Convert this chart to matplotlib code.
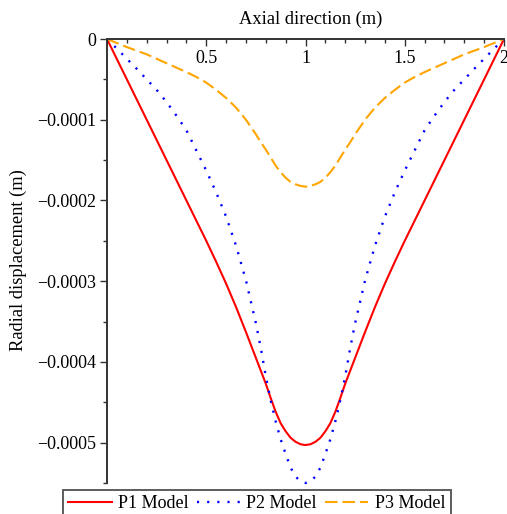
import matplotlib
matplotlib.use("Agg")
import matplotlib.pyplot as plt
from matplotlib.ticker import MultipleLocator

# Axial position along the member (m); finer steps around mid-span
axial_pos = [0.00, 0.05, 0.10, 0.15, 0.20, 0.25, 0.30, 0.35, 0.40, 0.45,
             0.50, 0.55, 0.60, 0.65, 0.70,
             0.75, 0.775, 0.80, 0.825, 0.85, 0.875, 0.90, 0.925, 0.95, 0.975,
             1.00, 1.025, 1.05, 1.075, 1.10, 1.125, 1.15, 1.175, 1.20, 1.225,
             1.25, 1.30, 1.35, 1.40, 1.45, 1.50, 1.55, 1.60, 1.65, 1.70,
             1.75, 1.80, 1.85, 1.90, 1.95, 2.00]

# Radial displacement of each model (x 1e-4 m)
p1_model = [0.00, -0.25, -0.50, -0.75, -1.00, -1.25, -1.50, -1.75, -2.00, -2.25,
            -2.50, -2.76, -3.03, -3.32, -3.63,
            -3.95, -4.11, -4.27, -4.45, -4.62, -4.76, -4.86, -4.94, -4.99, -5.02,
            -5.03, -5.02, -4.99, -4.94, -4.86, -4.76, -4.62, -4.45, -4.27, -4.11,
            -3.95, -3.63, -3.32, -3.03, -2.76, -2.50, -2.25, -2.00, -1.75, -1.50,
            -1.25, -1.00, -0.75, -0.50, -0.25, 0.00]
p2_model = [0.00, -0.12, -0.245, -0.37, -0.50, -0.63, -0.78, -0.95, -1.13, -1.38,
            -1.63, -1.90, -2.20, -2.56, -2.99,
            -3.52, -3.83, -4.18, -4.48, -4.74, -4.96, -5.14, -5.31, -5.42, -5.48,
            -5.50, -5.48, -5.42, -5.31, -5.14, -4.96, -4.74, -4.48, -4.18, -3.83,
            -3.52, -2.99, -2.56, -2.20, -1.90, -1.63, -1.38, -1.13, -0.95, -0.78,
            -0.63, -0.50, -0.37, -0.245, -0.12, 0.00]
p3_model = [0.00, -0.05, -0.10, -0.145, -0.19, -0.245, -0.30, -0.355, -0.41, -0.47,
            -0.54, -0.63, -0.73, -0.85, -1.00,
            -1.18, -1.28, -1.37, -1.47, -1.57, -1.65, -1.72, -1.77, -1.80, -1.82,
            -1.83, -1.82, -1.80, -1.77, -1.72, -1.65, -1.57, -1.47, -1.37, -1.28,
            -1.18, -1.00, -0.85, -0.73, -0.63, -0.54, -0.47, -0.41, -0.355, -0.30,
            -0.245, -0.19, -0.145, -0.10, -0.05, 0.00]

x_ticks = [0.5, 1.0, 1.5, 2.0]
x_labels = ["0.5", "1", "1.5", "2"]
y_ticks = [0.0, -1e-4, -2e-4, -3e-4, -4e-4, -5e-4]
y_labels = ["0", "\u22120.0001", "\u22120.0002", "\u22120.0003", "\u22120.0004", "\u22120.0005"]

plt.rcParams["font.family"] = ["Liberation Serif", "DejaVu Serif"]
plt.rcParams["font.size"] = 13

W, H = 507, 514
fig = plt.figure(figsize=(W / 100, H / 100), dpi=100)
ax = fig.add_axes([107 / W, 1 - 483 / H, (504 - 107) / W, (483 - 39) / H])

scale = 1e-4
ax.plot(axial_pos, [v * scale for v in p1_model], color="#ff0000", lw=1.5,
        label="P1 Model")
ax.plot(axial_pos, [v * scale for v in p2_model], color="#0000ff", lw=1.7,
        linestyle=(0, (0.9, 3.4)), clip_on=False, label="P2 Model")
ax.plot(axial_pos, [v * scale for v in p3_model], color="#ffa500", lw=1.5,
        linestyle=(0, (6.0, 2.4)), label="P3 Model")

ax.set_xlim(0, 2)
ax.set_ylim(-5.5e-4, 0)

# axis lines: horizontal axis sits on y = 0 at the top, vertical on the left
ax.spines["top"].set_visible(False)
ax.spines["right"].set_visible(False)
ax.spines["bottom"].set_position(("data", 0))
for side in ("left", "bottom"):
    ax.spines[side].set_linewidth(1.4)
    ax.spines[side].set_color("#333333")
    ax.spines[side].set_zorder(5)

ax.set_xticks(x_ticks)
ax.set_xticklabels(x_labels)
ax.xaxis.set_minor_locator(MultipleLocator(0.1))
ax.set_yticks(y_ticks)
ax.set_yticklabels(y_labels)
ax.yaxis.set_minor_locator(MultipleLocator(5e-5))
ax.tick_params(axis="both", which="major", direction="out", length=5, width=1,
               color="#333333", labelsize=13)
ax.tick_params(axis="both", which="minor", direction="out", length=3, width=1,
               color="#333333")
ax.tick_params(axis="x", pad=3)
ax.tick_params(axis="y", pad=3)

fig.text(311 / W, 1 - 19 / H, "Axial direction (m)", ha="center", va="center",
         fontsize=13.3)
fig.text(18 / W, 1 - 260 / H, "Radial displacement (m)", ha="center",
         va="center", rotation=90, fontsize=13.3)

leg = fig.legend(loc="upper left", bbox_to_anchor=(63 / W, 1 - 490 / H),
                 ncol=3, frameon=True, fancybox=False, borderaxespad=0,
                 handlelength=2.4, handletextpad=0.35, columnspacing=0.45,
                 borderpad=0.3, fontsize=13)
leg.get_frame().set_edgecolor("#333333")
leg.get_frame().set_linewidth(1.4)

fig.savefig("out.png", dpi=100)
